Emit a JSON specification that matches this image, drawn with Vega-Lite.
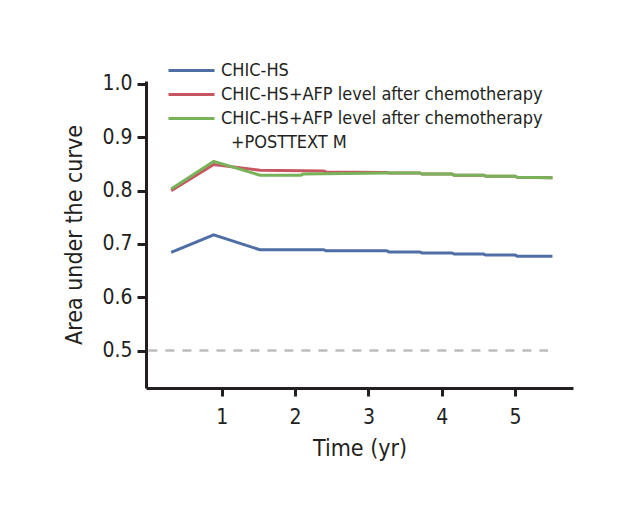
{
  "$schema": "https://vega.github.io/schema/vega-lite/v6.json",
  "width": 427,
  "height": 307,
  "autosize": "none",
  "padding": {"left": 146, "top": 81, "right": 60, "bottom": 117},
  "background": "white",
  "config": {
    "view": {"stroke": null},
    "font": "DejaVu Sans Condensed, Roboto, sans-serif",
    "axis": {
      "grid": false,
      "domainColor": "#231f20",
      "domainWidth": 3,
      "tickColor": "#231f20",
      "tickWidth": 3,
      "labelFont": "DejaVu Sans Condensed, Roboto, sans-serif",
      "labelFontSize": 21,
      "labelColor": "#231f20",
      "titleFont": "DejaVu Sans Condensed, Roboto, sans-serif",
      "titleFontSize": 23,
      "titleFontWeight": "normal",
      "titleColor": "#231f20"
    }
  },
  "layer": [
    {
      "data": {"values": [{"time": 0, "time_end": 5.45, "auc": 0.5}]},
      "mark": {"type": "rule", "color": "#bdbdbd", "strokeWidth": 2.5, "strokeDash": [9, 8]},
      "encoding": {
        "x": {"field": "time", "type": "quantitative"},
        "x2": {"field": "time_end"},
        "y": {"field": "auc", "type": "quantitative"}
      }
    },
    {
      "data": {"values": [
        {"series": "CHIC-HS", "time": 0.31, "auc": 0.684},
        {"series": "CHIC-HS", "time": 0.89, "auc": 0.717},
        {"series": "CHIC-HS", "time": 1.52, "auc": 0.689},
        {"series": "CHIC-HS", "time": 2.39, "auc": 0.689},
        {"series": "CHIC-HS", "time": 2.42, "auc": 0.687},
        {"series": "CHIC-HS", "time": 3.25, "auc": 0.687},
        {"series": "CHIC-HS", "time": 3.28, "auc": 0.685},
        {"series": "CHIC-HS", "time": 3.70, "auc": 0.685},
        {"series": "CHIC-HS", "time": 3.73, "auc": 0.683},
        {"series": "CHIC-HS", "time": 4.14, "auc": 0.683},
        {"series": "CHIC-HS", "time": 4.17, "auc": 0.681},
        {"series": "CHIC-HS", "time": 4.57, "auc": 0.681},
        {"series": "CHIC-HS", "time": 4.60, "auc": 0.679},
        {"series": "CHIC-HS", "time": 5.00, "auc": 0.679},
        {"series": "CHIC-HS", "time": 5.03, "auc": 0.677},
        {"series": "CHIC-HS", "time": 5.51, "auc": 0.677},
        {"series": "CHIC-HS+AFP level after chemotherapy", "time": 0.31, "auc": 0.800},
        {"series": "CHIC-HS+AFP level after chemotherapy", "time": 0.89, "auc": 0.849},
        {"series": "CHIC-HS+AFP level after chemotherapy", "time": 1.52, "auc": 0.838},
        {"series": "CHIC-HS+AFP level after chemotherapy", "time": 2.39, "auc": 0.837},
        {"series": "CHIC-HS+AFP level after chemotherapy", "time": 2.42, "auc": 0.835},
        {"series": "CHIC-HS+AFP level after chemotherapy", "time": 3.25, "auc": 0.834},
        {"series": "CHIC-HS+AFP level after chemotherapy", "time": 3.28, "auc": 0.833},
        {"series": "CHIC-HS+AFP level after chemotherapy", "time": 3.70, "auc": 0.833},
        {"series": "CHIC-HS+AFP level after chemotherapy", "time": 3.73, "auc": 0.831},
        {"series": "CHIC-HS+AFP level after chemotherapy", "time": 4.14, "auc": 0.831},
        {"series": "CHIC-HS+AFP level after chemotherapy", "time": 4.17, "auc": 0.829},
        {"series": "CHIC-HS+AFP level after chemotherapy", "time": 4.57, "auc": 0.829},
        {"series": "CHIC-HS+AFP level after chemotherapy", "time": 4.60, "auc": 0.827},
        {"series": "CHIC-HS+AFP level after chemotherapy", "time": 5.00, "auc": 0.827},
        {"series": "CHIC-HS+AFP level after chemotherapy", "time": 5.03, "auc": 0.825},
        {"series": "CHIC-HS+AFP level after chemotherapy", "time": 5.51, "auc": 0.824},
        {"series": "CHIC-HS+AFP level after chemotherapy +POSTTEXT M", "time": 0.31, "auc": 0.803},
        {"series": "CHIC-HS+AFP level after chemotherapy +POSTTEXT M", "time": 0.89, "auc": 0.855},
        {"series": "CHIC-HS+AFP level after chemotherapy +POSTTEXT M", "time": 1.52, "auc": 0.829},
        {"series": "CHIC-HS+AFP level after chemotherapy +POSTTEXT M", "time": 2.08, "auc": 0.829},
        {"series": "CHIC-HS+AFP level after chemotherapy +POSTTEXT M", "time": 2.11, "auc": 0.831},
        {"series": "CHIC-HS+AFP level after chemotherapy +POSTTEXT M", "time": 3.25, "auc": 0.833},
        {"series": "CHIC-HS+AFP level after chemotherapy +POSTTEXT M", "time": 3.70, "auc": 0.833},
        {"series": "CHIC-HS+AFP level after chemotherapy +POSTTEXT M", "time": 3.73, "auc": 0.831},
        {"series": "CHIC-HS+AFP level after chemotherapy +POSTTEXT M", "time": 4.14, "auc": 0.831},
        {"series": "CHIC-HS+AFP level after chemotherapy +POSTTEXT M", "time": 4.17, "auc": 0.829},
        {"series": "CHIC-HS+AFP level after chemotherapy +POSTTEXT M", "time": 4.57, "auc": 0.829},
        {"series": "CHIC-HS+AFP level after chemotherapy +POSTTEXT M", "time": 4.60, "auc": 0.827},
        {"series": "CHIC-HS+AFP level after chemotherapy +POSTTEXT M", "time": 5.00, "auc": 0.827},
        {"series": "CHIC-HS+AFP level after chemotherapy +POSTTEXT M", "time": 5.03, "auc": 0.825},
        {"series": "CHIC-HS+AFP level after chemotherapy +POSTTEXT M", "time": 5.51, "auc": 0.824}
      ]},
      "mark": {"type": "line", "strokeWidth": 3},
      "encoding": {
        "x": {
          "field": "time", "type": "quantitative",
          "scale": {"domain": [-0.033, 5.79], "nice": false, "zero": false},
          "axis": {"values": [1, 2, 3, 4, 5], "format": "d", "title": "Time (yr)", "tickSize": 8, "labelPadding": 10, "titlePadding": 10}
        },
        "y": {
          "field": "auc", "type": "quantitative",
          "scale": {"domain": [0.4297, 1.0056], "nice": false, "zero": false},
          "axis": {"values": [0.5, 0.6, 0.7, 0.8, 0.9, 1.0], "format": ".1f", "title": "Area under the curve", "tickSize": 9, "labelPadding": 5, "titlePadding": 15}
        },
        "color": {
          "field": "series", "type": "nominal",
          "scale": {
            "domain": ["CHIC-HS", "CHIC-HS+AFP level after chemotherapy", "CHIC-HS+AFP level after chemotherapy +POSTTEXT M", "+POSTTEXT M"],
            "range": ["#4f6ea6", "#c75662", "#78b35a", "transparent"]
          },
          "legend": {
            "title": null,
            "orient": "none",
            "legendX": 34,
            "legendY": -22,
            "padding": 0,
            "symbolType": "M-2.3,0L2.3,0",
            "symbolSize": 400,
            "symbolStrokeWidth": 3,
            "labelOffset": 18,
            "labelFont": "DejaVu Sans Condensed, Roboto, sans-serif",
            "labelFontSize": 18,
            "labelColor": "#231f20",
            "labelLimit": 0,
            "rowPadding": 3,
            "labelExpr": "datum.value === 'CHIC-HS+AFP level after chemotherapy +POSTTEXT M' ? 'CHIC-HS+AFP level after chemotherapy' : datum.label",
            "encode": {
              "labels": {
                "update": {
                  "dx": {"signal": "datum.value === '+POSTTEXT M' ? 10 : 0"}
                }
              }
            }
          }
        }
      }
    }
  ]
}
